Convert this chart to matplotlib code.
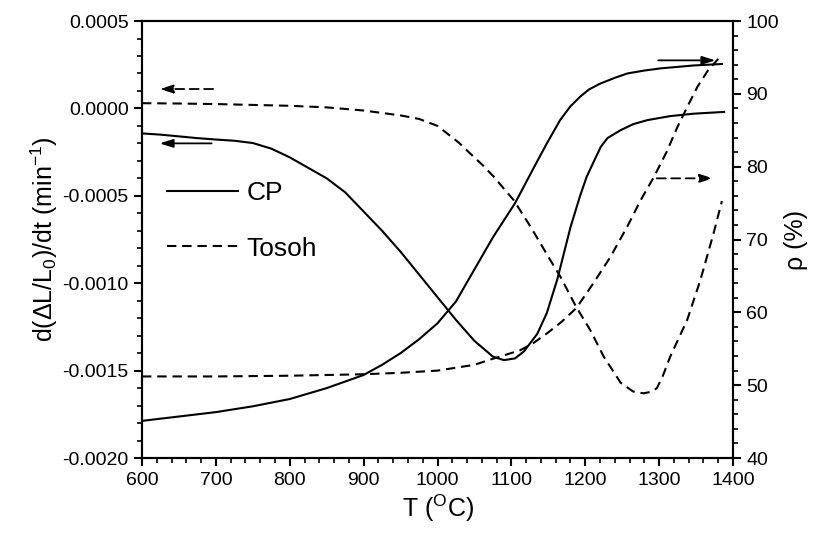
import numpy as np
import matplotlib.pyplot as plt
from matplotlib.ticker import MultipleLocator, FuncFormatter
from matplotlib.lines import Line2D

plt.rcParams['font.family'] = ['Liberation Sans', 'DejaVu Sans']
plt.rcParams['mathtext.fontset'] = 'custom'
plt.rcParams['mathtext.rm'] = 'Liberation Sans'
plt.rcParams['mathtext.it'] = 'Liberation Sans'
plt.rcParams['axes.unicode_minus'] = False

# shrinkage rate, CP powder (left axis)
T_cp_rate = [600, 625, 650, 675, 700, 725, 750, 775, 800, 825, 850, 875, 900,
             925, 950, 975, 1000, 1025, 1050, 1075, 1090, 1105, 1117, 1135,
             1148, 1162, 1180, 1193, 1202, 1212, 1221, 1230, 1248, 1265, 1284,
             1315, 1347, 1388]
cp_rate = [-0.000143, -0.00015, -0.00016, -0.00017, -0.000178, -0.000185,
           -0.000198, -0.00023, -0.00028, -0.00034, -0.0004, -0.00048, -0.00059,
           -0.0007, -0.00082, -0.00095, -0.00108, -0.00121, -0.00133, -0.00142,
           -0.00144, -0.00143, -0.00139, -0.00129, -0.00117, -0.00098, -0.00068,
           -0.0005, -0.00039, -0.0003, -0.00022, -0.00017, -0.000124, -0.00009,
           -0.000067, -0.000044, -0.00003, -0.00002]

# shrinkage rate, Tosoh powder (left axis)
T_to_rate = [600, 650, 700, 750, 800, 850, 900, 950, 975, 1000, 1013, 1030,
             1044, 1060, 1076, 1090, 1103, 1126, 1153, 1166, 1187, 1207, 1225,
             1248, 1265, 1279, 1290, 1297, 1305, 1315, 1338, 1356, 1374, 1385]
to_rate = [0.00003, 0.000028, 0.000025, 0.00002, 0.000015, 0.000006, -0.000012,
           -0.00004, -0.00006, -0.0001, -0.000143, -0.0002, -0.000257, -0.00032,
           -0.00039, -0.00046, -0.000524, -0.000677, -0.00087, -0.00096,
           -0.00113, -0.00127, -0.00142, -0.00157, -0.00162, -0.00163, -0.00162,
           -0.0016, -0.00153, -0.00142, -0.00121, -0.00098, -0.00071, -0.00053]

# relative density, CP powder (right axis)
T_cp_rho = [600, 650, 700, 750, 800, 850, 900, 925, 950, 975, 1000, 1025, 1050,
            1075, 1105, 1130, 1148, 1166, 1180, 1193, 1205, 1220, 1240, 1257,
            1280, 1302, 1347, 1385]
cp_rho = [45.1, 45.7, 46.3, 47.1, 48.1, 49.6, 51.4, 52.8, 54.4, 56.3, 58.5, 61.5,
          65.9, 70.3, 75.0, 79.8, 83.2, 86.4, 88.3, 89.6, 90.6, 91.4, 92.2, 92.8,
          93.2, 93.5, 93.9, 94.1]

# relative density, Tosoh powder (right axis)
T_to_rho = [600, 700, 800, 900, 950, 1000, 1050, 1071, 1090, 1112, 1130, 1148,
            1168, 1188, 1211, 1234, 1257, 1275, 1293, 1310, 1325, 1340, 1352,
            1366, 1380]
to_rho = [51.2, 51.2, 51.3, 51.5, 51.7, 52.0, 52.8, 53.5, 54.1, 54.8, 55.8, 57.1,
          58.7, 60.6, 64.0, 67.6, 71.8, 75.4, 78.6, 82.0, 85.5, 88.6, 91.0, 93.2,
          94.8]

dash = (0, (4.5, 2.8))
lw = 1.5

fig = plt.figure(figsize=(8.13, 5.35), dpi=100)
ax = fig.add_axes([0.1747, 0.1439, 0.7269, 0.8168])
ax2 = ax.twinx()

ax.plot(T_cp_rate, cp_rate, color='black', lw=lw)
ax.plot(T_to_rate, to_rate, color='black', lw=lw, linestyle=dash)
ax2.plot(T_cp_rho, cp_rho, color='black', lw=lw)
ax2.plot(T_to_rho, to_rho, color='black', lw=lw, linestyle=dash)

ax.set_xlim(600, 1400)
ax.set_ylim(-0.002, 0.0005)
ax2.set_ylim(40, 100)

ax.xaxis.set_major_locator(MultipleLocator(100))
ax.xaxis.set_minor_locator(MultipleLocator(20))
ax.yaxis.set_major_locator(MultipleLocator(0.0005))
ax.yaxis.set_minor_locator(MultipleLocator(0.0001))
ax.yaxis.set_major_formatter(FuncFormatter(lambda v, p: f"{v:.4f}" if abs(v) > 1e-9 else "0.0000"))
ax2.yaxis.set_major_locator(MultipleLocator(10))
ax2.yaxis.set_minor_locator(MultipleLocator(2))

for a in (ax, ax2):
    for s in a.spines.values():
        s.set_linewidth(1.5)
    a.tick_params(which='major', length=6, width=1.5, direction='out', labelsize=14)
    a.tick_params(which='minor', length=3.5, width=1.2, direction='out')
ax.tick_params(axis='x', which='both', top=False, pad=4)

ax.set_xlabel(r"T ($^{\rm O}$C)", fontsize=18, labelpad=3)
ax.set_ylabel(r"d($\Delta$L/L$_0$)/dt (min$^{-1}$)", fontsize=18, labelpad=2)
ax2.set_ylabel("ρ (%)", fontsize=18, labelpad=4)

# arrows telling which axis each curve belongs to
head = '-|>,head_length=0.8,head_width=0.25'
ax.annotate('', xy=(620, 0.000111), xytext=(700, 0.000111),
            arrowprops=dict(arrowstyle=head, color='black', lw=1.3,
                            linestyle=(0, (5, 3))))
ax.annotate('', xy=(620, -0.0002), xytext=(698, -0.0002),
            arrowprops=dict(arrowstyle=head, color='black', lw=1.3))
ax2.annotate('', xy=(1380, 94.6), xytext=(1295, 94.6),
             arrowprops=dict(arrowstyle=head, color='black', lw=1.3))
ax2.annotate('', xy=(1377, 78.4), xytext=(1293, 78.4),
             arrowprops=dict(arrowstyle=head, color='black', lw=1.3,
                             linestyle=(0, (5, 3))))

handles = [Line2D([], [], color='black', lw=lw),
           Line2D([], [], color='black', lw=lw, linestyle=dash)]
leg = ax.legend(handles, ['CP', 'Tosoh'], loc='upper left',
                bbox_to_anchor=(0.020, 0.664), frameon=False, fontsize=19,
                borderpad=0, handlelength=2.7, handletextpad=0.3,
                labelspacing=1.2)

fig.savefig('out.png', dpi=100)
